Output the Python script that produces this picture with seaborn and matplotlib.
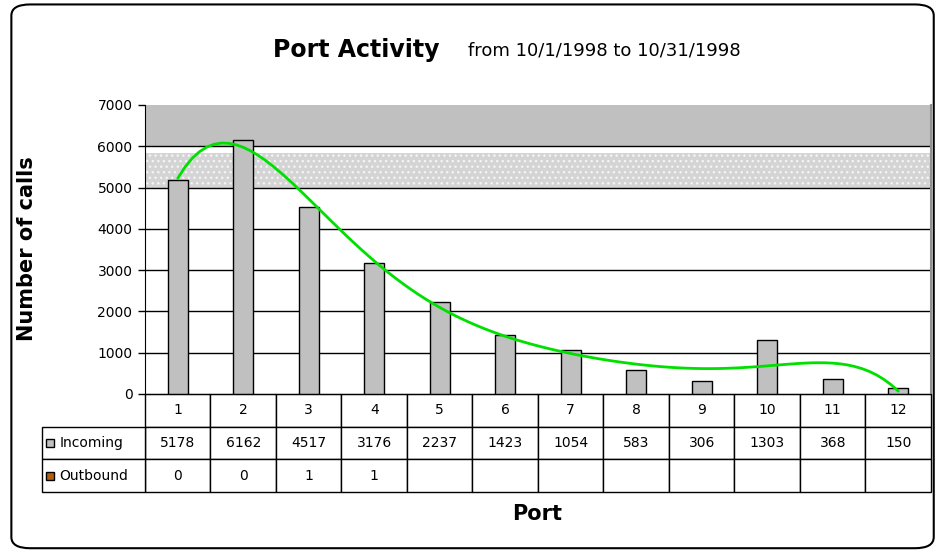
import numpy as np
import pandas as pd
import matplotlib
matplotlib.use("Agg")
import matplotlib.pyplot as plt
import seaborn as sns
from matplotlib.patches import Rectangle, FancyBboxPatch

ports = ['1', '2', '3', '4', '5', '6', '7', '8', '9', '10', '11', '12']
incoming = [5178, 6162, 4517, 3176, 2237, 1423, 1054, 583, 306, 1303, 368, 150]
outbound = ['0', '0', '1', '1', '', '', '', '', '', '', '', '']
y_ticks = [0, 1000, 2000, 3000, 4000, 5000, 6000, 7000]

df = pd.DataFrame({'Port': ports, 'Incoming': incoming})
df['pos'] = np.arange(len(ports))

sns.set_style("white")
plt.rcParams['font.family'] = ['DejaVu Sans']
plt.rcParams['text.color'] = 'black'
plt.rcParams['xtick.color'] = 'black'
plt.rcParams['ytick.color'] = 'black'
plt.rcParams['hatch.linewidth'] = 1.0

fig = plt.figure(figsize=(9.47, 5.56), dpi=100)
ax = fig.add_axes([0.1531, 0.2914, 0.8300, 0.5198])

# background bands
ax.axhspan(6000, 7000, color='#c0c0c0', zorder=0, lw=0)
ax.axhspan(5000, 5830, facecolor='#d4d4d4', edgecolor='#f4f4f4', hatch='...', zorder=0, lw=0)
for t in y_ticks[1:-1]:
    ax.axhline(t, color='black', lw=1, zorder=1)

sns.barplot(data=df, x='Port', y='Incoming', color='#c0c0c0', width=0.3,
            edgecolor='black', linewidth=1, saturation=1, ax=ax, zorder=2)

# polynomial trend line
sns.regplot(data=df, x='pos', y='Incoming', order=6, ci=None, scatter=False,
            truncate=True, line_kws={'color': '#00e000', 'lw': 2, 'zorder': 3}, ax=ax)

ax.set_xlim(-0.5, len(ports) - 0.5)
ax.set_ylim(0, 7000)
ax.set_yticks(y_ticks)
ax.set_yticklabels([str(t) for t in y_ticks], fontsize=10)
ax.tick_params(axis='y', left=True, length=5, width=1, color='black', pad=4)
ax.set_xticks([])
ax.set_xlabel('')
ax.set_ylabel('')
ax.spines['top'].set_visible(False)
ax.spines['left'].set_color('black')
ax.spines['bottom'].set_color('black')
ax.spines['right'].set_color('#909090')
ax.spines['right'].set_linewidth(1.5)

# data table below the axes
h = 98 / 289
tbl = ax.table(cellText=[ports, [str(v) for v in incoming], outbound],
               cellLoc='center', bbox=[0, -h, 1, h])
tbl.auto_set_font_size(False)
tbl.set_fontsize(10)
for cell in tbl.get_celld().values():
    cell.set_linewidth(1)
    cell.set_edgecolor('black')

lw = 103 / 786
lab = ax.table(cellText=[['Incoming'], ['Outbound']], cellLoc='left',
               bbox=[-lw, -h, lw, h * 2 / 3])
lab.auto_set_font_size(False)
lab.set_fontsize(10)
for cell in lab.get_celld().values():
    cell.set_linewidth(1)
    cell.set_edgecolor('black')
    cell.PAD = 0.17

# legend keys
kw = 8 / 786
kh = 8 / 289
ax.add_patch(Rectangle((-lw + 4 / 786, -h * 0.5 - kh / 2), kw, kh, transform=ax.transAxes,
                       facecolor='#c0c0c0', edgecolor='black', lw=1, clip_on=False))
ax.add_patch(Rectangle((-lw + 4 / 786, -h * 5 / 6 - kh / 2), kw, kh, transform=ax.transAxes,
                       facecolor='#b06010', edgecolor='black', lw=1, clip_on=False))

# titles
fig.text(0.288, 0.910, 'Port Activity', fontsize=17, fontweight='bold', va='center')
fig.text(0.494, 0.909, 'from 10/1/1998 to 10/31/1998', fontsize=13, va='center')
fig.text(0.0285, 0.553, 'Number of calls', fontsize=15, fontweight='bold',
         rotation=90, ha='center', va='center')
fig.text(0.567, 0.0755, 'Port', fontsize=15, fontweight='bold', ha='center', va='center')

# outer rounded frame
frame = FancyBboxPatch((0.012, 0.014), 0.974, 0.978, transform=fig.transFigure,
                       boxstyle='round,pad=0,rounding_size=0.02', facecolor='none',
                       edgecolor='black', lw=1.5)
fig.patches.append(frame)

fig.savefig('out.png', dpi=100)
